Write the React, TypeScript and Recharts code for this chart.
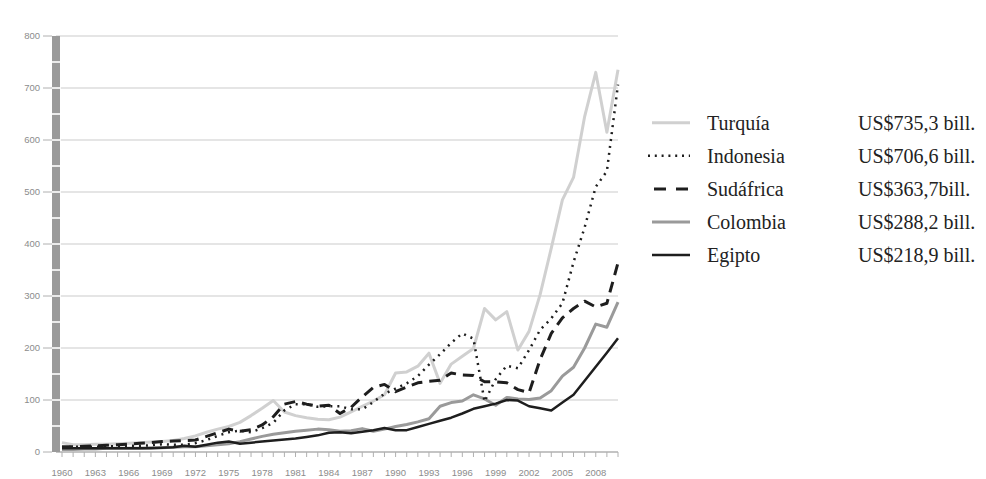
import React from 'react';
import { LineChart, Line, XAxis, YAxis, CartesianGrid } from 'recharts';

const years = [
  1960, 1961, 1962, 1963, 1964, 1965, 1966, 1967, 1968, 1969,
  1970, 1971, 1972, 1973, 1974, 1975, 1976, 1977, 1978, 1979,
  1980, 1981, 1982, 1983, 1984, 1985, 1986, 1987, 1988, 1989,
  1990, 1991, 1992, 1993, 1994, 1995, 1996, 1997, 1998, 1999,
  2000, 2001, 2002, 2003, 2004, 2005, 2006, 2007, 2008, 2009,
  2010,
];

const turquia = [
  18, 14, 14, 15, 15, 16, 17, 18, 19, 20,
  22, 26, 31, 38, 44, 49, 57, 70, 84, 99,
  77, 70, 66, 63, 62, 67, 77, 88, 98, 110,
  152, 154, 165, 190, 132, 169, 184, 199, 276, 254,
  270, 196, 232, 303, 392, 485, 528, 645, 730, 615,
  735.3,
];

const indonesia = [
  9, 10, 10, 10, 11, 11, 12, 12, 13, 15,
  14, 14, 17, 23, 31, 38, 41, 38, 46, 56,
  80, 92, 92, 87, 88, 88, 82, 82, 96, 112,
  122, 132, 146, 168, 188, 210, 228, 218, 97, 140,
  166, 161, 196, 235, 257, 286, 365, 432, 510, 540,
  706.6,
];

const sudafrica = [
  10, 10, 11, 12, 13, 14, 15, 17, 18, 20,
  21, 22, 23, 30, 37, 44, 40, 43, 52, 68,
  92, 97, 92, 88, 90, 74, 86, 106, 124, 130,
  116, 125, 133, 136, 138, 152, 148, 147, 135, 135,
  133, 120, 114, 178, 228, 258, 276, 290, 279, 286,
  363.7,
];

const colombia = [
  5, 5, 6, 6, 7, 7, 7, 7, 8, 8,
  9, 10, 10, 12, 14, 16, 20, 25, 30, 34,
  37, 40, 42, 44, 43, 40, 41, 45, 40, 44,
  49, 53, 58, 64, 88, 95, 98, 110, 102, 90,
  105, 102, 101, 104, 118, 146, 163, 200, 246, 240,
  288.2,
];

const egipto = [
  7, 7, 7, 7, 7, 7, 7, 7, 7, 8,
  9, 12, 10, 14, 18, 20, 16, 18, 20, 22,
  24, 26, 29, 32, 37, 38, 36, 39, 42, 46,
  42, 42, 48, 54, 60, 66, 74, 83, 88, 93,
  100, 99, 88, 84, 80, 95, 110, 137, 164, 191,
  218.9,
];

const seriesNames = ['Turquía', 'Indonesia', 'Sudáfrica', 'Colombia', 'Egipto'];
const legendValues = [
  'US$735,3 bill.',
  'US$706,6 bill.',
  'US$363,7bill.',
  'US$288,2 bill.',
  'US$218,9 bill.',
];
const yTicks = [0, 50, 100, 150, 200, 250, 300, 350, 400, 450, 500, 550, 600, 650, 700, 750, 800];
const gridValues = [100, 200, 300, 400, 500, 600, 700, 800];

const seriesValues = [turquia, indonesia, sudafrica, colombia, egipto];

const data = years.map((year, i) => {
  const row: Record<string, number> = { year };
  seriesNames.forEach((name, s) => {
    row[name] = seriesValues[s][i];
  });
  return row;
});

const styles: Record<string, { stroke: string; width: number; dash?: string; legendDash?: string }> = {
  'Turquía': { stroke: '#d0d0d0', width: 3 },
  'Indonesia': { stroke: '#1e1e1e', width: 2.5, dash: '2 5', legendDash: '2 4.8' },
  'Sudáfrica': { stroke: '#1e1e1e', width: 3, dash: '11 7', legendDash: '12 10' },
  'Colombia': { stroke: '#9a9a9a', width: 3 },
  'Egipto': { stroke: '#1e1e1e', width: 2.5 },
};

const drawOrder = ['Turquía', 'Colombia', 'Sudáfrica', 'Indonesia', 'Egipto'];

const AXIS_Y = 452;

const XTick = (props: any) => {
  const { x, payload } = props;
  const yr = payload.value as number;
  return (
    <g>
      <line x1={x} x2={x} y1={AXIS_Y} y2={AXIS_Y + 5} stroke="#b0b0b0" strokeWidth={1} />
      {(yr - 1960) % 3 === 0 && (
        <text
          x={x}
          y={AXIS_Y + 24}
          textAnchor="middle"
          fontSize={9.5}
          fill="#8c8c8c"
          fontFamily="'Liberation Sans', Arial, sans-serif"
        >
          {yr}
        </text>
      )}
    </g>
  );
};

const YTick = (props: any) => {
  const { y, payload } = props;
  const v = payload.value as number;
  return (
    <g>
      {v > 0 && v < 800 && (
        <line x1={51} x2={61} y1={y} y2={y} stroke="#ffffff" strokeWidth={1.6} />
      )}
      {v % 100 === 0 && (
        <g>
          <line x1={43} x2={52} y1={y} y2={y} stroke="#b0b0b0" strokeWidth={1} />
          <text
            x={40}
            y={y + 3}
            textAnchor="end"
            fontSize={9.5}
            fill="#8c8c8c"
            fontFamily="'Liberation Sans', Arial, sans-serif"
          >
            {v}
          </text>
        </g>
      )}
    </g>
  );
};

const LegendBlock = () => (
  <svg
    width={346}
    height={180}
    style={{ position: 'absolute', left: 640, top: 100 }}
  >
    {seriesNames.map((name, i) => {
      const st = styles[name];
      const ly = 22.7 + i * 33.1;
      const isDot = name === 'Indonesia';
      const isDash = name === 'Sudáfrica';
      return (
        <g key={name}>
          <line
            x1={isDot ? 8 : isDash ? 14 : 12}
            x2={isDash ? 52 : 50}
            y1={ly}
            y2={ly}
            stroke={st.stroke}
            strokeWidth={st.width}
            strokeDasharray={st.legendDash}
          />
          <text
            x={67}
            y={ly + 7}
            fontSize={20}
            fill="#222"
            fontFamily="'Liberation Serif', 'Times New Roman', serif"
          >
            {name}
          </text>
          <text
            x={218}
            y={ly + 7}
            fontSize={20}
            fill="#222"
            fontFamily="'Liberation Serif', 'Times New Roman', serif"
          >
            {legendValues[i]}
          </text>
        </g>
      );
    })}
  </svg>
);

export default function App() {
  return (
    <div
      style={{
        position: 'absolute',
        left: 0,
        top: 0,
        width: 986,
        height: 479,
        background: '#ffffff',
      }}
    >
      <LineChart
        width={986}
        height={479}
        data={data}
        margin={{ top: 36, right: 368, left: 0, bottom: 0 }}
      >
        <CartesianGrid
          vertical={false}
          horizontalValues={gridValues}
          stroke="#dddddd"
          strokeWidth={1.5}
        />
        <XAxis
          dataKey="year"
          type="number"
          domain={[1960, 2010]}
          ticks={years}
          interval={0}
          padding={{ left: 6, right: 0 }}
          height={27}
          axisLine={{ stroke: '#b0b0b0', strokeWidth: 1.5 }}
          tickLine={false}
          tick={<XTick />}
        />
        <YAxis
          type="number"
          domain={[0, 800]}
          ticks={yTicks}
          interval={0}
          width={56}
          axisLine={{ stroke: '#9a9a9a', strokeWidth: 8 }}
          tickLine={false}
          tick={<YTick />}
        />
        {drawOrder.map((name) => {
          const st = styles[name];
          return (
            <Line
              key={name}
              type="linear"
              dataKey={name}
              stroke={st.stroke}
              strokeWidth={st.width}
              strokeDasharray={st.dash}
              dot={false}
              activeDot={false}
              isAnimationActive={false}
              strokeLinejoin="round"
            />
          );
        })}
      </LineChart>
      <LegendBlock />
    </div>
  );
}
